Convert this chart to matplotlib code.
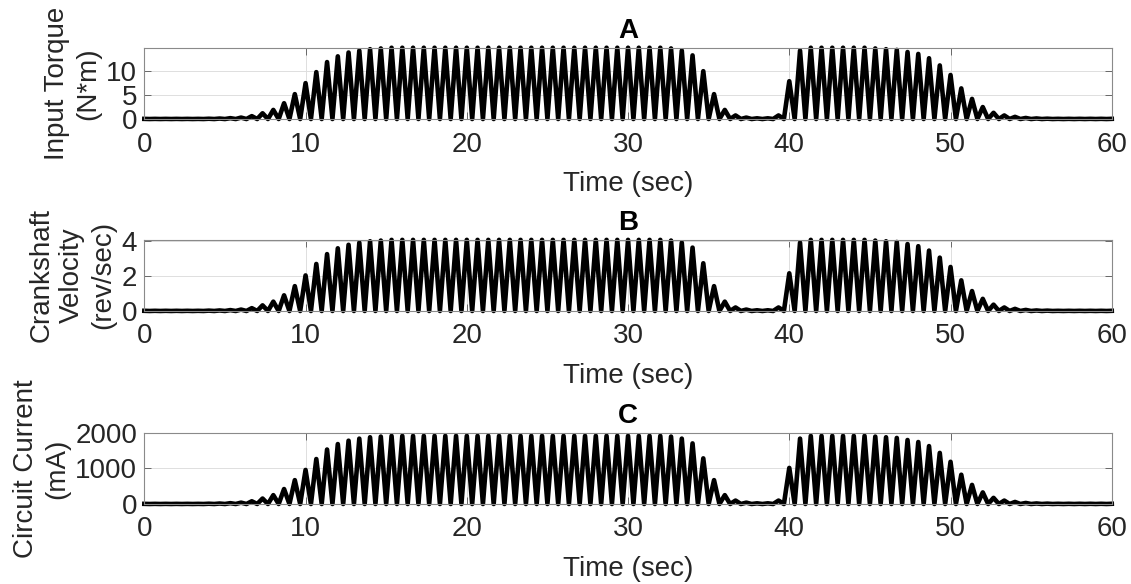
import matplotlib
matplotlib.use('Agg')
import matplotlib.pyplot as plt
import numpy as np

plt.rcParams['font.family'] = ['Liberation Sans', 'DejaVu Sans']

# one peak every 2/3 s from t=0 to t=60, troughs back to zero in between
period = 2.0 / 3.0

torque_peaks = ([0.03] * 6
                + [0.06, 0.1, 0.18, 0.3, 0.6, 1.2, 1.9, 3.3, 5.2, 7.5, 9.8, 11.9, 13.1, 13.9, 14.3, 14.6, 14.75]
                + [14.9] * 26
                + [14.75, 14.3, 13.3, 10.0, 5.2, 1.9, 0.75, 0.3, 0.15, 0.15, 0.75, 7.9, 14.3]
                + [14.9] * 6
                + [14.75, 14.6, 14.45, 14.0, 13.6, 12.7, 11.2, 9.2, 6.4, 4.2, 2.5, 1.3, 0.75, 0.45, 0.22, 0.12, 0.07]
                + [0.04] * 6)

velocity_peaks = ([0.01] * 6
                  + [0.02, 0.03, 0.05, 0.08, 0.16, 0.32, 0.53, 0.89, 1.41, 2.02, 2.67, 3.23, 3.56, 3.76, 3.88, 3.96, 4.0]
                  + [4.04] * 26
                  + [4.0, 3.88, 3.6, 2.71, 1.41, 0.53, 0.2, 0.08, 0.04, 0.04, 0.2, 2.14, 3.88]
                  + [4.04] * 6
                  + [4.0, 3.96, 3.92, 3.8, 3.68, 3.43, 3.03, 2.5, 1.74, 1.13, 0.69, 0.36, 0.2, 0.12, 0.06, 0.03, 0.02]
                  + [0.01] * 6)

current_peaks = ([4] * 6
                 + [8, 13, 23, 38, 76, 153, 248, 420, 669, 955, 1261, 1528, 1681, 1776, 1834, 1872, 1891]
                 + [1910] * 26
                 + [1891, 1834, 1700, 1280, 669, 248, 96, 38, 19, 19, 96, 1012, 1834]
                 + [1910] * 6
                 + [1891, 1872, 1853, 1795, 1738, 1624, 1433, 1184, 821, 535, 325, 172, 96, 57, 29, 15, 10]
                 + [6] * 6)

titles = ['A', 'B', 'C']
ylabels = ['Input Torque\n(N*m)', 'Crankshaft\nVelocity\n(rev/sec)', 'Circuit Current\n(mA)']
yticks = [[0, 5, 10], [0, 2, 4], [0, 1000, 2000]]
ylims = [(0, 14.9), (0, 4.05), (0, 2000)]
xticks = [0, 10, 20, 30, 40, 50, 60]


def wave(peaks):
    peaks = np.asarray(peaks, dtype=float)
    n = len(peaks)
    t = np.empty(2 * n - 1)
    y = np.zeros(2 * n - 1)
    t[0::2] = np.arange(n) * period
    t[1::2] = (np.arange(n - 1) + 0.5) * period
    y[0::2] = peaks
    return t, y


fig = plt.figure(figsize=(11.31, 5.84), dpi=100)
bottoms = [0.7962, 0.4675, 0.137]
dark = '#262626'
fs = 20

for i, peaks in enumerate([torque_peaks, velocity_peaks, current_peaks]):
    ax = fig.add_axes([0.1276, bottoms[i], 0.8554, 0.1221])
    t, y = wave(peaks)
    ax.plot(t, y, color='k', lw=3.3, solid_joinstyle='round', clip_on=False)
    ax.set_xlim(0, 60)
    ax.set_ylim(*ylims[i])
    ax.set_xticks(xticks)
    ax.set_yticks(yticks[i])
    ax.grid(True, color='#dedede', lw=0.7)
    ax.set_axisbelow(True)
    for s in ax.spines.values():
        s.set_color('#8a8a8a')
        s.set_linewidth(0.8)
    ax.tick_params(direction='in', length=5, width=0.6, color='#555555',
                   labelsize=fs, labelcolor=dark, top=True, right=True)
    ax.tick_params(axis='x', pad=9)
    ax.tick_params(axis='y', pad=5)
    ax.set_title(titles[i], fontsize=fs, fontweight='bold', color='k', pad=7)
    ax.set_xlabel('Time (sec)', fontsize=fs, color=dark, labelpad=10)
    ax.set_ylabel(ylabels[i], fontsize=fs, color=dark, multialignment='center',
                  linespacing=1.25, labelpad=4)

fig.savefig('out.png', dpi=100)
